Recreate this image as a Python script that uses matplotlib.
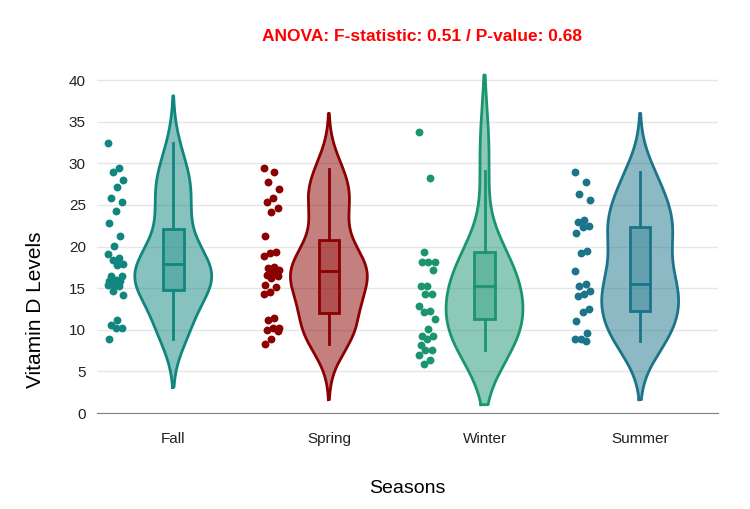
import numpy as np
import matplotlib
matplotlib.use('Agg')
import matplotlib.pyplot as plt

### Data
seasons = ['Fall', 'Spring', 'Winter', 'Summer']

fall = [32.4, 29.4, 29.0, 28.0, 27.2, 25.8, 25.4, 24.3, 22.8, 21.3, 20.1, 19.1, 18.6,
        18.4, 17.9, 17.8, 16.4, 16.4, 16.0, 15.8, 15.8, 15.4, 15.4, 15.2, 14.6, 14.2,
        11.2, 10.6, 10.2, 10.2, 8.9]
spring = [29.4, 28.9, 27.8, 26.9, 25.8, 25.3, 24.6, 24.2, 21.3, 19.4, 19.2, 18.9,
          17.6, 17.4, 17.2, 16.8, 16.6, 16.4, 16.2, 15.4, 15.1, 14.5, 14.3,
          11.4, 11.2, 10.2, 10.2, 10.0, 9.8, 8.9, 8.3]
winter = [33.8, 28.2, 19.3, 18.2, 18.2, 18.2, 17.2, 15.3, 15.3, 14.3, 14.3, 12.8,
          12.3, 12.1, 11.3, 10.1, 9.3, 9.3, 8.9, 8.2, 7.6, 7.6, 7.0, 6.4, 5.9]
summer = [28.9, 27.8, 26.3, 25.6, 23.2, 22.9, 22.5, 22.3, 21.6, 19.5, 19.2, 17.0,
          15.5, 15.2, 14.6, 14.3, 14.1, 12.5, 12.1, 11.1, 9.6, 8.85, 8.85, 8.7]
groups = [fall, spring, winter, summer]

# box stats as drawn (q1, median, q3, whisker low, whisker high)
q1 = [14.8, 12.05, 11.25, 12.2]
med = [17.9, 17.0, 15.2, 15.5]
q3 = [22.1, 20.8, 19.3, 22.4]
wlo = [8.9, 8.3, 7.6, 8.7]
whi = [32.4, 29.3, 29.1, 28.9]

# violin extent as drawn
span_lo = [3.1, 1.6, 1.0, 1.6]
span_hi = [38.1, 36.0, 40.6, 36.0]
# kde bandwidths
bandwidth = [2.9, 2.9, 4.0, 3.2]

colors = ['#11867f', '#8b0000', '#1b9570', '#1b7489']

anova_f = 0.51
anova_p = 0.68

plt.rcParams['font.family'] = ['Liberation Sans', 'DejaVu Sans']

fig = plt.figure(figsize=(7.5, 5.09), dpi=100)
ax = fig.add_axes([0.1293, 0.1886, 0.828, 0.6754])

half_w = 0.247
box_hw = 0.066
for i, vals in enumerate(groups):
    vals = np.asarray(vals)
    c = colors[i]
    bw = bandwidth[i]
    kv = vals[vals >= wlo[i]]   # violin drawn from values above the lower whisker
    ys = np.linspace(span_lo[i], span_hi[i], 300)
    dens = np.exp(-0.5 * ((ys[:, None] - kv[None, :]) / bw) ** 2).sum(axis=1)
    dens = dens / dens.max() * half_w
    ax.fill_betweenx(ys, i - dens, i + dens, facecolor=c, alpha=0.5, lw=0, zorder=2)
    ax.plot(np.r_[i - dens, (i + dens)[::-1], i - dens[0]], np.r_[ys, ys[::-1], ys[0]],
            color=c, lw=2, zorder=3)
    # inner box
    ax.plot([i, i], [wlo[i], q1[i]], color=c, lw=2, zorder=4)
    ax.plot([i, i], [q3[i], whi[i]], color=c, lw=2, zorder=4)
    ax.add_patch(plt.Rectangle((i - box_hw, q1[i]), 2 * box_hw, q3[i] - q1[i],
                               facecolor=c, alpha=0.35, lw=0, zorder=4))
    ax.add_patch(plt.Rectangle((i - box_hw, q1[i]), 2 * box_hw, q3[i] - q1[i],
                               facecolor='none', edgecolor=c, lw=2, zorder=5))
    ax.plot([i - box_hw, i + box_hw], [med[i], med[i]], color=c, lw=2, zorder=5)
    # points, shifted left with a fixed jitter pattern
    n = len(vals)
    jit = (((np.arange(n) * 7) % 11) - 5) / 5.0 * 0.05
    ax.scatter(i - 0.37 + jit, vals, s=32, color=c, lw=0, zorder=6)

ax.set_xlim(-0.49, 3.5)
ax.set_ylim(0, 41.3)
ax.set_yticks(np.arange(0, 41, 5))
ax.set_xticks(range(len(seasons)))
ax.set_xticklabels(seasons)
ax.grid(axis='y', color='#e6e6e6', lw=1, zorder=0)
ax.set_axisbelow(True)
for s in ['top', 'right', 'left']:
    ax.spines[s].set_visible(False)
ax.spines['bottom'].set_color('#7f7f7f')
ax.tick_params(axis='both', length=0, labelsize=11, colors='#222222', pad=8)
ax.tick_params(axis='x', pad=14)
ax.set_xlabel('Seasons', fontsize=14, labelpad=24)
ax.set_ylabel('Vitamin D Levels', fontsize=15)
ax.yaxis.set_label_coords(-0.084, 0.30)
fig.text(0.563, 0.929, 'ANOVA: F-statistic: %.2f / P-value: %.2f' % (anova_f, anova_p),
         color='red', fontsize=12.5, fontweight='bold', ha='center', va='center')

plt.savefig('out.png', dpi=100)
